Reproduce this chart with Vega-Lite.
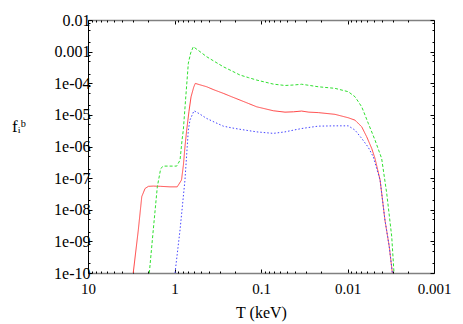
{
  "$schema": "https://vega.github.io/schema/vega-lite/v6.json",
  "autosize": "none",
  "width": 346,
  "height": 253,
  "padding": {"left": 88, "top": 20, "right": 29, "bottom": 51},
  "background": "white",
  "config": {
    "view": {"stroke": null},
    "axis": {
      "labelFont": "Liberation Serif",
      "labelFontSize": 16,
      "labelColor": "black",
      "labelFlush": false,
      "labelOverlap": false,
      "titleFont": "Liberation Serif",
      "titleFontWeight": "normal",
      "titleColor": "black",
      "tickColor": "black",
      "tickWidth": 1,
      "grid": false
    }
  },
  "data": {
    "values": [
      {"s": "s1", "T": 3.0, "f": 1e-10},
      {"s": "s1", "T": 2.62, "f": 2.3e-9},
      {"s": "s1", "T": 2.39, "f": 2.6e-8},
      {"s": "s1", "T": 2.19, "f": 4.7e-8},
      {"s": "s1", "T": 2.0, "f": 5.5e-8},
      {"s": "s1", "T": 1.76, "f": 5.6e-8},
      {"s": "s1", "T": 1.45, "f": 5.5e-8},
      {"s": "s1", "T": 1.13, "f": 5.3e-8},
      {"s": "s1", "T": 0.93, "f": 5.3e-8},
      {"s": "s1", "T": 0.83, "f": 8.7e-8},
      {"s": "s1", "T": 0.79, "f": 2.5e-7},
      {"s": "s1", "T": 0.757, "f": 9.8e-7},
      {"s": "s1", "T": 0.723, "f": 3.3e-6},
      {"s": "s1", "T": 0.68, "f": 1.3e-5},
      {"s": "s1", "T": 0.644, "f": 3.7e-5},
      {"s": "s1", "T": 0.6, "f": 7.5e-5},
      {"s": "s1", "T": 0.575, "f": 9.9e-5},
      {"s": "s1", "T": 0.52, "f": 9.1e-5},
      {"s": "s1", "T": 0.4246, "f": 7.75e-5},
      {"s": "s1", "T": 0.35, "f": 6.2e-5},
      {"s": "s1", "T": 0.2729, "f": 4.8e-5},
      {"s": "s1", "T": 0.22, "f": 3.77e-5},
      {"s": "s1", "T": 0.175, "f": 2.94e-5},
      {"s": "s1", "T": 0.14, "f": 2.3e-5},
      {"s": "s1", "T": 0.1122, "f": 1.8e-5},
      {"s": "s1", "T": 0.09, "f": 1.56e-5},
      {"s": "s1", "T": 0.0721, "f": 1.35e-5},
      {"s": "s1", "T": 0.0528, "f": 1.22e-5},
      {"s": "s1", "T": 0.042, "f": 1.25e-5},
      {"s": "s1", "T": 0.0339, "f": 1.32e-5},
      {"s": "s1", "T": 0.028, "f": 1.22e-5},
      {"s": "s1", "T": 0.0218, "f": 1.18e-5},
      {"s": "s1", "T": 0.01396, "f": 1.04e-5},
      {"s": "s1", "T": 0.00979, "f": 8.1e-6},
      {"s": "s1", "T": 0.00819, "f": 6.8e-6},
      {"s": "s1", "T": 0.00685, "f": 4.2e-6},
      {"s": "s1", "T": 0.006, "f": 2.03e-6},
      {"s": "s1", "T": 0.00525, "f": 8.7e-7},
      {"s": "s1", "T": 0.00481, "f": 4.2e-7},
      {"s": "s1", "T": 0.0042, "f": 8.7e-8},
      {"s": "s1", "T": 0.00369, "f": 4.7e-9},
      {"s": "s1", "T": 0.00329, "f": 6.8e-10},
      {"s": "s1", "T": 0.00303, "f": 1e-10},

      {"s": "s2", "T": 1.955, "f": 1e-10},
      {"s": "s2", "T": 1.76, "f": 2.3e-9},
      {"s": "s2", "T": 1.58, "f": 5.3e-8},
      {"s": "s2", "T": 1.444, "f": 2.0e-7},
      {"s": "s2", "T": 1.348, "f": 2.4e-7},
      {"s": "s2", "T": 1.15, "f": 2.4e-7},
      {"s": "s2", "T": 0.944, "f": 2.4e-7},
      {"s": "s2", "T": 0.863, "f": 3.7e-7},
      {"s": "s2", "T": 0.818, "f": 1.6e-6},
      {"s": "s2", "T": 0.791, "f": 3.3e-6},
      {"s": "s2", "T": 0.74, "f": 3.8e-5},
      {"s": "s2", "T": 0.692, "f": 4.3e-4},
      {"s": "s2", "T": 0.65, "f": 9.1e-4},
      {"s": "s2", "T": 0.606, "f": 1.43e-3},
      {"s": "s2", "T": 0.52, "f": 1.05e-3},
      {"s": "s2", "T": 0.4246, "f": 6.9e-4},
      {"s": "s2", "T": 0.35, "f": 5.0e-4},
      {"s": "s2", "T": 0.2729, "f": 3.33e-4},
      {"s": "s2", "T": 0.22, "f": 2.49e-4},
      {"s": "s2", "T": 0.175, "f": 1.82e-4},
      {"s": "s2", "T": 0.14, "f": 1.51e-4},
      {"s": "s2", "T": 0.1122, "f": 1.26e-4},
      {"s": "s2", "T": 0.09, "f": 1.09e-4},
      {"s": "s2", "T": 0.0721, "f": 9.4e-5},
      {"s": "s2", "T": 0.0528, "f": 8.5e-5},
      {"s": "s2", "T": 0.042, "f": 8.8e-5},
      {"s": "s2", "T": 0.0339, "f": 9.3e-5},
      {"s": "s2", "T": 0.028, "f": 8.6e-5},
      {"s": "s2", "T": 0.0218, "f": 7.75e-5},
      {"s": "s2", "T": 0.01396, "f": 6.9e-5},
      {"s": "s2", "T": 0.00979, "f": 5.4e-5},
      {"s": "s2", "T": 0.00819, "f": 3.74e-5},
      {"s": "s2", "T": 0.00685, "f": 1.8e-5},
      {"s": "s2", "T": 0.00575, "f": 5.4e-6},
      {"s": "s2", "T": 0.00481, "f": 1.6e-6},
      {"s": "s2", "T": 0.00403, "f": 4.2e-7},
      {"s": "s2", "T": 0.00352, "f": 3.3e-8},
      {"s": "s2", "T": 0.00308, "f": 1.4e-9},
      {"s": "s2", "T": 0.0029, "f": 1e-10},

      {"s": "s3", "T": 0.986, "f": 1e-10},
      {"s": "s3", "T": 0.863, "f": 2.3e-9},
      {"s": "s3", "T": 0.757, "f": 8.7e-8},
      {"s": "s3", "T": 0.692, "f": 3.3e-6},
      {"s": "s3", "T": 0.662, "f": 6.9e-6},
      {"s": "s3", "T": 0.595, "f": 1.35e-5},
      {"s": "s3", "T": 0.52, "f": 1.1e-5},
      {"s": "s3", "T": 0.4246, "f": 7.7e-6},
      {"s": "s3", "T": 0.35, "f": 6.0e-6},
      {"s": "s3", "T": 0.2729, "f": 4.4e-6},
      {"s": "s3", "T": 0.22, "f": 3.9e-6},
      {"s": "s3", "T": 0.175, "f": 3.5e-6},
      {"s": "s3", "T": 0.1122, "f": 2.9e-6},
      {"s": "s3", "T": 0.0721, "f": 2.6e-6},
      {"s": "s3", "T": 0.0528, "f": 2.9e-6},
      {"s": "s3", "T": 0.042, "f": 3.3e-6},
      {"s": "s3", "T": 0.0339, "f": 3.7e-6},
      {"s": "s3", "T": 0.028, "f": 4.0e-6},
      {"s": "s3", "T": 0.0218, "f": 4.4e-6},
      {"s": "s3", "T": 0.01396, "f": 4.5e-6},
      {"s": "s3", "T": 0.00979, "f": 4.5e-6},
      {"s": "s3", "T": 0.00819, "f": 3.3e-6},
      {"s": "s3", "T": 0.00685, "f": 1.8e-6},
      {"s": "s3", "T": 0.00575, "f": 9.4e-7},
      {"s": "s3", "T": 0.00503, "f": 4.7e-7},
      {"s": "s3", "T": 0.0042, "f": 8.7e-8},
      {"s": "s3", "T": 0.00369, "f": 4.7e-9},
      {"s": "s3", "T": 0.00329, "f": 6.8e-10},
      {"s": "s3", "T": 0.00303, "f": 1e-10}
    ]
  },
  "resolve": {
    "scale": {"x": "shared", "y": "shared", "color": "shared", "strokeDash": "shared"},
    "axis": {"x": "independent", "y": "independent"}
  },
  "layer": [
    {
      "mark": {"type": "line", "strokeWidth": 1, "clip": true},
      "encoding": {
        "x": {
          "field": "T", "type": "quantitative",
          "scale": {"type": "log", "domain": [0.001, 10], "reverse": true, "nice": false},
          "axis": {
            "orient": "bottom",
            "values": [10, 1, 0.1, 0.01, 0.001],
            "format": "~g",
            "labelFontSize": 15,
            "title": "T (keV)",
            "titleFontSize": 16,
            "titleX": 173,
            "titleY": 44,
            "titleAlign": "center",
            "titleBaseline": "alphabetic",
            "tickSize": -4,
            "labelPadding": 12,
            "labelDx": 1.5,
            "domainColor": "#808080",
            "domainWidth": 1.5
          }
        },
        "y": {
          "field": "f", "type": "quantitative",
          "scale": {"type": "log", "domain": [1e-10, 0.01], "nice": false},
          "axis": {
            "orient": "left",
            "values": [0.01, 0.001, 0.0001, 0.00001, 0.000001, 1e-7, 1e-8, 1e-9, 1e-10],
            "labelExpr": "datum.value >= 0.0009 ? format(datum.value, '~g') : '1e-' + (round(-log(datum.value)/LN10) < 10 ? '0' : '') + round(-log(datum.value)/LN10)",
            "labelFontSize": 16,
            "title": "fᵢᵇ",
            "titleFontSize": 17,
            "titleAngle": 0,
            "titleAlign": "left",
            "titleBaseline": "alphabetic",
            "titleX": -76.5,
            "titleY": 111.7,
            "tickSize": -4,
            "labelPadding": 2,
            "domainColor": "black",
            "domainWidth": 1
          }
        },
        "color": {
          "field": "s", "type": "nominal",
          "scale": {"domain": ["s1", "s2", "s3"], "range": ["#ff4545", "#30e030", "#4545ff"]},
          "legend": null
        },
        "strokeDash": {
          "field": "s", "type": "nominal",
          "scale": {"domain": ["s1", "s2", "s3"], "range": [[1, 0], [3, 2], [1.5, 2]]},
          "legend": null
        }
      }
    },
    {
      "mark": {"type": "line", "opacity": 0},
      "encoding": {
        "x": {
          "field": "T", "type": "quantitative",
          "scale": {"type": "log", "domain": [0.001, 10], "reverse": true, "nice": false},
          "axis": {
            "orient": "top",
            "values": [10, 1, 0.1, 0.01, 0.001],
            "labels": false,
            "title": null,
            "tickSize": -4,
            "domainColor": "#808080",
            "domainWidth": 1.5
          }
        },
        "y": {
          "field": "f", "type": "quantitative",
          "scale": {"type": "log", "domain": [1e-10, 0.01], "nice": false},
          "axis": {
            "orient": "right",
            "values": [0.01, 0.001, 0.0001, 0.00001, 0.000001, 1e-7, 1e-8, 1e-9, 1e-10],
            "labels": false,
            "title": null,
            "tickSize": -4,
            "domainColor": "black",
            "domainWidth": 1
          }
        }
      }
    },
    {
      "mark": {"type": "line", "opacity": 0},
      "encoding": {
        "x": {
          "field": "T", "type": "quantitative",
          "scale": {"type": "log", "domain": [0.001, 10], "reverse": true, "nice": false},
          "axis": {
            "orient": "bottom",
            "values": [9, 8, 7, 6, 5, 4, 3, 2, 0.9, 0.8, 0.7, 0.6, 0.5, 0.4, 0.3, 0.2, 0.09, 0.08, 0.07, 0.06, 0.05, 0.04, 0.03, 0.02, 0.009, 0.008, 0.007, 0.006, 0.005, 0.004, 0.003, 0.002],
            "labels": false,
            "title": null,
            "domain": false,
            "tickSize": -2
          }
        },
        "y": {
          "field": "f", "type": "quantitative",
          "scale": {"type": "log", "domain": [1e-10, 0.01], "nice": false},
          "axis": {
            "orient": "left",
            "values": [0.008, 0.005, 0.002, 0.0008, 0.0005, 0.0002, 0.00008, 0.00005, 0.00002, 8e-6, 5e-6, 2e-6, 8e-7, 5e-7, 2e-7, 8e-8, 5e-8, 2e-8, 8e-9, 5e-9, 2e-9, 8e-10, 5e-10, 2e-10],
            "labels": false,
            "title": null,
            "domain": false,
            "tickSize": -2
          }
        }
      }
    },
    {
      "mark": {"type": "line", "opacity": 0},
      "encoding": {
        "x": {
          "field": "T", "type": "quantitative",
          "scale": {"type": "log", "domain": [0.001, 10], "reverse": true, "nice": false},
          "axis": {
            "orient": "top",
            "values": [9, 8, 7, 6, 5, 4, 3, 2, 0.9, 0.8, 0.7, 0.6, 0.5, 0.4, 0.3, 0.2, 0.09, 0.08, 0.07, 0.06, 0.05, 0.04, 0.03, 0.02, 0.009, 0.008, 0.007, 0.006, 0.005, 0.004, 0.003, 0.002],
            "labels": false,
            "title": null,
            "domain": false,
            "tickSize": -2
          }
        },
        "y": {
          "field": "f", "type": "quantitative",
          "scale": {"type": "log", "domain": [1e-10, 0.01], "nice": false},
          "axis": {
            "orient": "right",
            "values": [0.008, 0.005, 0.002, 0.0008, 0.0005, 0.0002, 0.00008, 0.00005, 0.00002, 8e-6, 5e-6, 2e-6, 8e-7, 5e-7, 2e-7, 8e-8, 5e-8, 2e-8, 8e-9, 5e-9, 2e-9, 8e-10, 5e-10, 2e-10],
            "labels": false,
            "title": null,
            "domain": false,
            "tickSize": -2
          }
        }
      }
    }
  ]
}
